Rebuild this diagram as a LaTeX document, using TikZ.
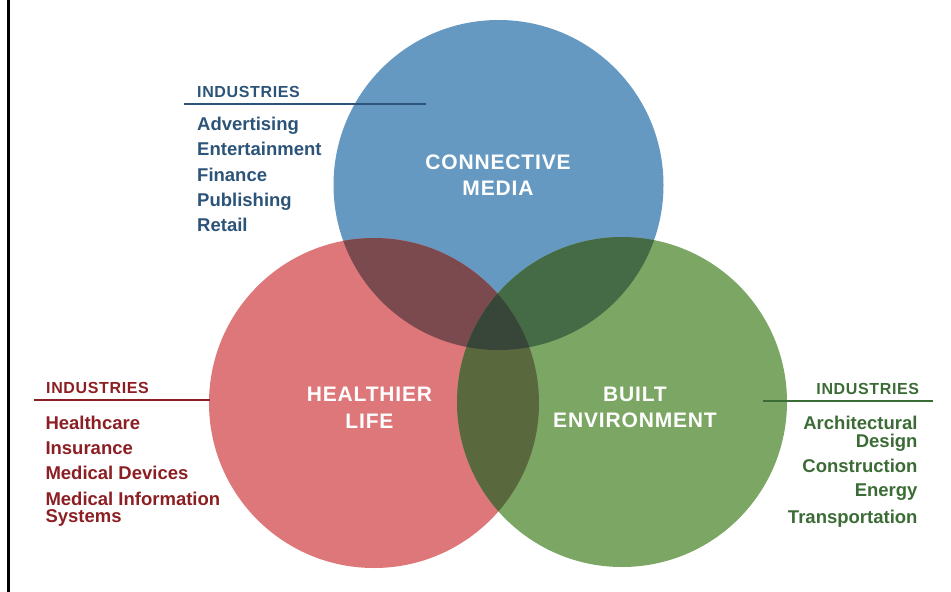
\documentclass[tikz,border=0pt]{standalone}
\usepackage{fontspec}
\setmainfont{Liberation Sans}
\newfontfamily\hdfont{Liberation Sans}[LetterSpace=4]
\definecolor{cBlue}{HTML}{6699C1}
\definecolor{cRed}{HTML}{DE777A}
\definecolor{cGreen}{HTML}{7BA663}
\definecolor{cBR}{HTML}{7A4A4E}
\definecolor{cBG}{HTML}{446B46}
\definecolor{cRG}{HTML}{5A683D}
\definecolor{cAll}{HTML}{38463A}
\definecolor{tBlue}{HTML}{2C5479}
\definecolor{tRed}{HTML}{8C1F24}
\definecolor{tGreen}{HTML}{3C6C36}
\tikzset{
  circlabel/.style={text=white, font=\hdfont\bfseries\fontsize{21}{26.6}\selectfont, align=center, inner sep=0pt},
  indhead/.style={font=\hdfont\bfseries\fontsize{16}{19}\selectfont, inner sep=0pt},
  inditem/.style={font=\bfseries\fontsize{18.5}{18}\selectfont, inner sep=0pt},
  indrule/.style={line width=1.8pt}
}
\begin{document}
\begin{tikzpicture}[x=1pt,y=-1pt]
\useasboundingbox (0,0) rectangle (951,592);
\def\cB{(498.5,185) circle[radius=165pt]}
\def\cR{(374,403) circle[radius=165pt]}
\def\cG{(622,402) circle[radius=165pt]}
% circles
\fill[cBlue] \cB;
\fill[cRed] \cR;
\fill[cGreen] \cG;
\begin{scope}\clip \cB; \fill[cBR] \cR; \end{scope}
\begin{scope}\clip \cB; \fill[cBG] \cG; \end{scope}
\begin{scope}\clip \cR; \fill[cRG] \cG; \end{scope}
\begin{scope}\clip \cB; \clip \cR; \fill[cAll] \cG; \end{scope}
% left border
\coordinate (bt) at (8.5,0);
\coordinate (bb) at (8.5,592);
\draw[line width=2.2pt,black] (bt) -- (bb);
% circle labels
\node[circlabel] (media) at (498,175.3) {CONNECTIVE\\MEDIA};
\node[circlabel] (life) at (369.5,407.5) {HEALTHIER\\LIFE};
\node[circlabel] (built) at (635,407.5) {BUILT\\ENVIRONMENT};
% top-left list
\begin{scope}[text=tBlue]
\node[indhead, anchor=base west] (hB) at (197,97.7) {INDUSTRIES};
\coordinate (lB1) at (184,104.3);
\coordinate (lB2) at (426,104.3);
\draw[indrule, tBlue] (lB1) -- (lB2);
\node[inditem, anchor=base west] (b1) at (197,130.3) {Advertising};
\node[inditem, anchor=base west] (b2) at (197,155.7) {Entertainment};
\node[inditem, anchor=base west] (b3) at (197,181) {Finance};
\node[inditem, anchor=base west] (b4) at (197,206.3) {Publishing};
\node[inditem, anchor=base west] (b5) at (197,231.5) {Retail};
\end{scope}
% left list
\begin{scope}[text=tRed]
\node[indhead, anchor=base west] (hR) at (46,393.3) {INDUSTRIES};
\coordinate (lR1) at (34,400);
\coordinate (lR2) at (210,400);
\draw[indrule, tRed] (lR1) -- (lR2);
\node[inditem, anchor=base west] (r1) at (45.3,429.3) {Healthcare};
\node[inditem, anchor=base west] (r2) at (45.3,454.3) {Insurance};
\node[inditem, anchor=base west] (r3) at (45.3,479.7) {Medical Devices};
\node[inditem, anchor=base west] (r4) at (45.3,505) {Medical Information};
\node[inditem, anchor=base west] (r5) at (45.3,522.7) {Systems};
\end{scope}
% right list
\begin{scope}[text=tGreen]
\node[indhead, anchor=base east] (hG) at (919.3,394) {INDUSTRIES};
\coordinate (lG1) at (762.7,400.7);
\coordinate (lG2) at (932.7,400.7);
\draw[indrule, tGreen] (lG1) -- (lG2);
\node[inditem, anchor=base east] (g1) at (917.7,429.3) {Architectural};
\node[inditem, anchor=base east] (g2) at (917.7,447.3) {Design};
\node[inditem, anchor=base east] (g3) at (917.7,472) {Construction};
\node[inditem, anchor=base east] (g4) at (917.7,496.7) {Energy};
\node[inditem, anchor=base east] (g5) at (917.7,523.3) {Transportation};
\end{scope}
\end{tikzpicture}
\end{document}
